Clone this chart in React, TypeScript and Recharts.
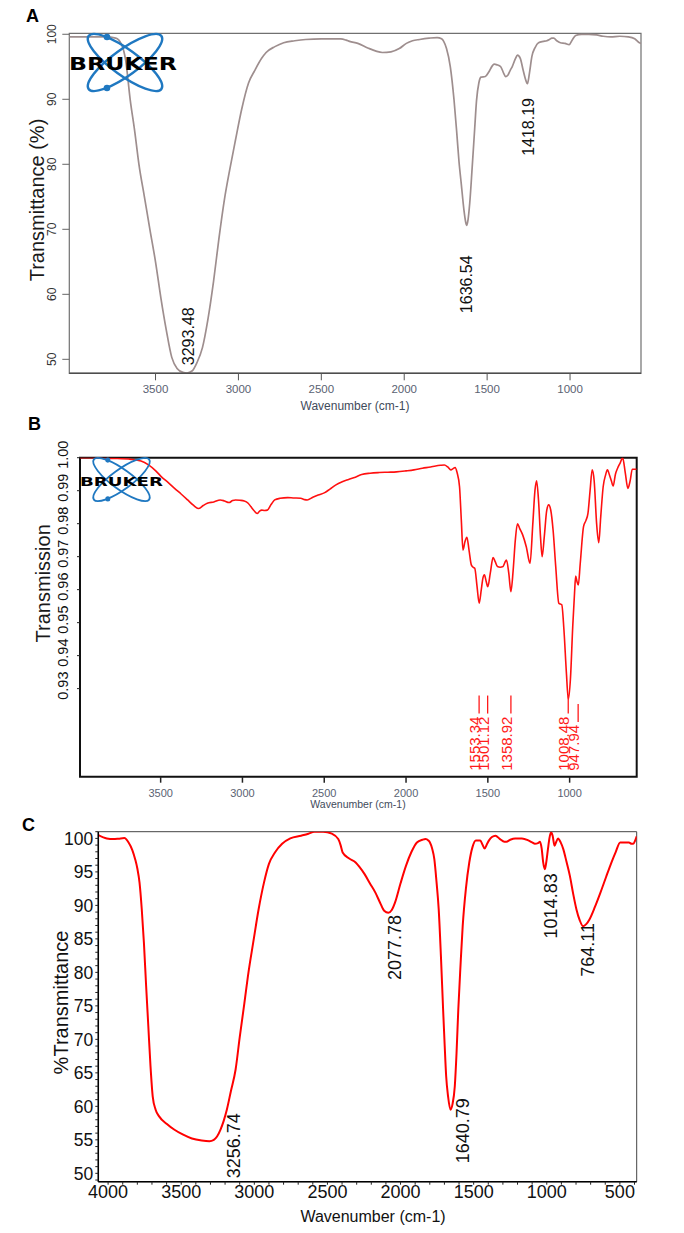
import React from "react";
import { LineChart, Line, XAxis, YAxis, ReferenceArea, ReferenceDot } from "recharts";

const FONT = '"Liberation Sans", Arial, Helvetica, sans-serif';

// ---- A: Bruker spectrum, Transmittance (%) ----
const wavenumberA = [
  4020, 3900, 3800, 3740, 3706, 3680, 3653, 3625, 3600, 3567,
  3534, 3500, 3468, 3435, 3402, 3370, 3335, 3310, 3280, 3250,
  3217, 3185, 3150, 3118, 3085, 3050, 3018, 2980, 2939, 2900,
  2860, 2833, 2780, 2727, 2660, 2595, 2500, 2383, 2350, 2330,
  2280, 2220, 2170, 2132, 2080, 2030, 1987, 1950, 1907, 1850,
  1802, 1775, 1762, 1745, 1722, 1700, 1683, 1670, 1656, 1640,
  1630, 1624, 1615, 1605, 1590, 1575, 1564, 1550, 1537, 1511,
  1490, 1470, 1458, 1440, 1418, 1400, 1389, 1375, 1360, 1349,
  1330, 1317, 1300, 1283, 1270, 1257, 1245, 1230, 1210, 1190,
  1160, 1140, 1124, 1110, 1098, 1080, 1058, 1030, 1005, 985,
  966, 930, 886, 840, 800, 754, 700, 648, 610, 582, 572,
];
const transmittanceA = [
  99.6, 99.6, 99.6, 99.4, 98.5, 96, 90, 85, 80, 75,
  70, 65, 59.5, 54.5, 50.3, 48.6, 48.0, 47.9, 48.2, 49.5,
  51.8, 56, 62, 68.5, 74.5, 79.5, 83.7, 88.5, 92.5, 94.5,
  96.3, 97.2, 98.1, 98.7, 99.0, 99.2, 99.3, 99.3, 99.1, 98.9,
  98.6, 97.9, 97.4, 97.2, 97.3, 97.8, 98.6, 99.0, 99.2, 99.4,
  99.5, 99.3, 98.9, 97.8, 95, 90, 84.8, 80.5, 77, 73,
  71.2, 70.6, 71.5, 74, 79.6, 85.5, 89.8, 92.5, 93.4, 93.5,
  94.2, 95.1, 95.4, 95.3, 95, 94, 93.5, 93.7, 94.5, 95,
  96.2, 96.8, 96.3, 94.5, 93.2, 92.4, 94, 96.6, 98, 98.7,
  98.9, 99.0, 99.2, 99.4, 99.4, 99.0, 98.7, 98.6, 98.4, 99.2,
  99.8, 100, 100, 99.9, 99.7, 99.6, 99.7, 99.6, 99.3, 98.7, 98.6,
];
const peakWnA = [3305, 1624, 1252];
const peakTextA = ["3293.48", "1636.54", "1418.19"];
const peakBaseA = [49.1, 57.1, 81.3];
const xTicksA = [3500, 3000, 2500, 2000, 1500, 1000];
const yTicksA = [50, 60, 70, 80, 90, 100];

// ---- B: Transmission ----
const wavenumberB = [
  3992, 3900, 3800, 3681, 3620, 3574, 3530, 3495, 3455, 3415,
  3375, 3335, 3300, 3269, 3240, 3215, 3175, 3136, 3110, 3082,
  3060, 3043, 3015, 2989, 2965, 2949, 2930, 2910, 2895, 2883,
  2865, 2848, 2825, 2803, 2770, 2723, 2690, 2644, 2620, 2604,
  2570, 2537, 2497, 2465, 2431, 2390, 2351, 2310, 2271, 2220,
  2165, 2110, 2059, 2000, 1952, 1900, 1850, 1819, 1790, 1766,
  1745, 1726, 1712, 1700, 1688, 1673, 1662, 1652, 1640, 1628,
  1615, 1601, 1590, 1580, 1566, 1553, 1540, 1530, 1521, 1510,
  1500, 1485, 1468, 1455, 1441, 1425, 1407, 1396, 1386, 1372,
  1359, 1345, 1332, 1319, 1305, 1287, 1265, 1242, 1225, 1212,
  1202, 1190, 1178, 1168, 1155, 1140, 1128, 1115, 1101, 1085,
  1066, 1048, 1035, 1020, 1008, 995, 981, 970, 963, 955,
  947, 935, 915, 900, 888, 875, 862, 850, 835, 822,
  810, 795, 780, 769, 755, 745, 734, 720, 707, 690,
  676, 660, 644, 630, 617, 590,
];
const transmissionB = [
  1.0, 1.0, 0.9998, 0.9995, 0.999, 0.9978, 0.996, 0.9942, 0.9925, 0.9907,
  0.989, 0.9872, 0.9856, 0.9846, 0.9855, 0.9862, 0.9866, 0.9872, 0.9869, 0.9864,
  0.987, 0.9872, 0.9871, 0.9869, 0.9862, 0.9852, 0.984, 0.9831, 0.9838, 0.9841,
  0.984, 0.9841, 0.9858, 0.9872, 0.9877, 0.9879, 0.9878, 0.9877, 0.9873, 0.9872,
  0.988, 0.9887, 0.9894, 0.9905, 0.9917, 0.9927, 0.9934, 0.9941, 0.9949, 0.9953,
  0.9955, 0.9956, 0.9957, 0.996, 0.9963, 0.9968, 0.9972, 0.9975, 0.9977, 0.9978,
  0.9972, 0.9963, 0.9967, 0.997, 0.9955, 0.9912, 0.981, 0.972, 0.9745, 0.9759,
  0.972, 0.9675, 0.9668, 0.9665, 0.961, 0.9559, 0.96, 0.9635, 0.9645, 0.9625,
  0.9609, 0.965, 0.9697, 0.9685, 0.967, 0.9668, 0.967, 0.9682, 0.969, 0.965,
  0.9594, 0.966, 0.975, 0.98, 0.9785, 0.9766, 0.973, 0.968, 0.98, 0.99,
  0.993, 0.987, 0.976, 0.97, 0.976, 0.984, 0.9857, 0.984, 0.978, 0.967,
  0.9559, 0.9554, 0.948, 0.935, 0.9268, 0.933, 0.9488, 0.959, 0.9641, 0.9625,
  0.9614, 0.968, 0.9791, 0.981, 0.9831, 0.99, 0.9963, 0.993, 0.98, 0.9742,
  0.982, 0.9912, 0.9948, 0.9963, 0.9945, 0.993, 0.9914, 0.995, 0.9968, 0.9985,
  1.0, 0.9955, 0.9907, 0.993, 0.9965, 0.9965,
];
const peakWnB = [1553.34, 1501.12, 1358.92, 1008.48, 947.94];
const peakTextB = ["1553.34", "1501.12", "1358.92", "1008.48", "947.94"];
const peakBaseB = 0.9051;
const xTicksB = [3500, 3000, 2500, 2000, 1500, 1000];
const yTicksB = [0.93, 0.94, 0.95, 0.96, 0.97, 0.98, 0.99, 1.0];

// ---- C: %Transmittance ----
const wavenumberC = [
  4067, 4009, 3964, 3930, 3889, 3860, 3835, 3815, 3800, 3785,
  3770, 3755, 3740, 3725, 3710, 3695, 3675, 3651, 3600, 3546,
  3490, 3427, 3360, 3307, 3277, 3255, 3232, 3210, 3188, 3160,
  3128, 3100, 3068, 3040, 3008, 2970, 2934, 2900, 2859, 2810,
  2754, 2680, 2630, 2590, 2530, 2470, 2426, 2410, 2396, 2351,
  2307, 2280, 2247, 2210, 2172, 2140, 2112, 2083, 2060, 2038,
  2000, 1963, 1925, 1888, 1850, 1829, 1810, 1799, 1784, 1769,
  1754, 1739, 1724, 1709, 1698, 1688, 1675, 1658, 1645, 1629,
  1617, 1605, 1590, 1575, 1553, 1530, 1508, 1485, 1455, 1440,
  1425, 1410, 1395, 1375, 1351, 1320, 1290, 1276, 1250, 1216,
  1170, 1126, 1100, 1081, 1060, 1046, 1035, 1025, 1013, 1003,
  992, 982, 971, 960, 947, 935, 923, 905, 887, 865,
  842, 820, 797, 775, 752, 730, 708, 670, 633, 595,
  558, 528, 498, 468, 438, 420, 408, 395, 385,
];
const transmittanceC = [
  100.5, 100, 99.9, 99.95, 100.05, 99.4, 98.3, 96.9, 95.5, 93.4,
  89.5, 84.4, 78, 72, 66, 61.5, 59.5, 58.5, 57.4, 56.5,
  55.8, 55.2, 54.9, 54.8, 55, 55.5, 56.5, 57.8, 59.5, 62.3,
  65.5, 70.3, 75.4, 80, 84.4, 89.5, 93.4, 96.2, 97.9, 99.2,
  100, 100.4, 100.7, 101, 101, 100.7, 99.9, 99, 97.9, 97,
  96.4, 95.7, 94.7, 93.3, 91.9, 90.4, 89.2, 88.9, 89.3, 90.4,
  93.3, 95.9, 98, 99.4, 99.8, 99.9, 99.7, 99.4, 98.5, 96.9,
  93.5, 89.4, 82.5, 74.5, 69, 64.5, 61.5, 59.5, 60.3, 63,
  68, 74.5, 81, 86.9, 92.5, 96.4, 98.7, 99.7, 99.7, 99.1,
  98.5, 99.1, 99.7, 100.2, 100.4, 99.9, 99.5, 99.5, 99.8, 100,
  100, 99.7, 99.4, 99.2, 99.3, 99.5, 98.5, 96.5, 95.4, 96.5,
  98.4, 100, 100.9, 100.4, 98.9, 99.5, 100, 99.4, 98.4, 96.5,
  94.4, 91.8, 89.4, 87.8, 86.9, 87.2, 87.9, 89.8, 91.9, 94.2,
  96.4, 98, 99.4, 99.4, 99.4, 99.2, 99.2, 99.7, 100.3,
];
const peakWnC = [3143, 2038, 1575, 971, 724];
const peakTextC = ["3256.74", "2077.78", "1640.79", "1014.83", "764.11"];
const peakBaseC = [49.25, 78.85, 51.5, 85.07, 79.35];
const xTicksC = [4000, 3500, 3000, 2500, 2000, 1500, 1000, 500];
const yTicksC = [50, 55, 60, 65, 70, 75, 80, 85, 90, 95, 100];
// minor tick marks (every 100 cm-1 / every 1 %)
const xMinorC = Array.from({ length: 37 }, (_, i) => 400 + i * 100);
const yMinorC = Array.from({ length: 53 }, (_, i) => 49 + i);

const domA = { x: [572, 4020], y: [47.85, 100.15] };
const domB = { x: [590, 3993], y: [0.9033, 1.0] };
const domC = { x: [385, 4067], y: [48.75, 101.0] };

const rows = (xs: number[], ys: number[]) => xs.map((wn, i) => ({ wn, t: ys[i] }));

const VText = ({ x, y, size, fill, anchor = "start", children }: any) => (
  <text
    x={x}
    y={y}
    transform={`rotate(-90 ${x} ${y})`}
    fontSize={size}
    fill={fill}
    textAnchor={anchor}
    fontFamily={FONT}
  >
    {children}
  </text>
);

const textWidth = (s: string, size: number) =>
  s.split("").reduce((w, c) => w + (c === "." ? 0.278 : 0.556), 0) * size;

// rotated peak label, its glyphs centred on the peak position
const peakShape = (text: string, size: number, fill: string) => (p: any) => {
  const bx = p.cx + size * 0.36;
  return <VText x={bx} y={p.cy} size={size} fill={fill}>{text}</VText>;
};

// red label with a marker stroke above it (panel B)
const peakShapeB = (text: string) => (p: any) => {
  const len = textWidth(text, 15);
  return (
    <g>
      <VText x={p.cx + 1} y={p.cy} size={15} fill="#ff1a1a">{text}</VText>
      <line x1={p.cx} x2={p.cx} y1={p.cy - len - 3} y2={p.cy - len - 21} stroke="#ff1a1a" strokeWidth={1.3} />
    </g>
  );
};

const BrukerLogo = ({ cx, cy, s, tx, ty, tw, fs }: any) => (
  <g>
    <ellipse cx={cx} cy={cy} rx={45 * s} ry={13 * s} transform={`rotate(36 ${cx} ${cy})`}
      fill="none" stroke="#1f78c1" strokeWidth={2.4 * s} />
    <ellipse cx={cx} cy={cy} rx={45 * s} ry={13 * s} transform={`rotate(-36 ${cx} ${cy})`}
      fill="none" stroke="#1f78c1" strokeWidth={2.4 * s} />
    <circle cx={cx - 18 * s} cy={cy - 25.5 * s} r={3.3 * s} fill="#1f78c1" />
    <circle cx={cx - 18 * s} cy={cy + 25.5 * s} r={3.3 * s} fill="#1f78c1" />
    <text x={tx} y={ty} fontSize={fs} fontWeight="bold" fontFamily='"DejaVu Sans", sans-serif'
      textLength={tw} lengthAdjust="spacingAndGlyphs" fill="#000">BRUKER</text>
  </g>
);

const overlay: React.CSSProperties = { position: "absolute", left: 0, top: 0, pointerEvents: "none" };

// ---- tick renderers ----
const tickAX = ({ x, y, payload }: any) => (
  <text x={x} y={y} dy="0.71em" textAnchor="middle" fontSize={11.5} fill="#5a6272" fontFamily={FONT}>
    {payload.value}
  </text>
);
const tickAY = ({ x, y, payload }: any) => (
  <VText x={x} y={y} size={12} fill="#333" anchor="middle">{payload.value}</VText>
);
const tickBX = ({ x, y, payload }: any) => (
  <text x={x} y={y} dy="0.71em" textAnchor="middle" fontSize={11} fill="#5a6272" fontFamily={FONT}>
    {payload.value}
  </text>
);
const tickBY = ({ x, y, payload }: any) => (
  <VText x={x} y={y - 3} size={14.5} fill="#111" anchor="middle">{payload.value.toFixed(2)}</VText>
);
const tickCX = ({ x, y, payload }: any) =>
  xTicksC.includes(payload.value) ? (
    <text x={x} y={y} dy="0.71em" textAnchor="middle" fontSize={18} fill="#111" fontFamily={FONT}>
      {payload.value}
    </text>
  ) : (
    <g />
  );
const tickCY = ({ x, y, payload }: any) =>
  yTicksC.includes(payload.value) ? (
    <text x={x} y={y} dy="0.355em" textAnchor="end" fontSize={17.5} fill="#111" fontFamily={FONT}>
      {payload.value}
    </text>
  ) : (
    <g />
  );

function PanelA() {
  return (
    <div style={{ position: "absolute", left: 0, top: 0, width: 684, height: 415 }}>
      <LineChart width={684} height={415} data={rows(wavenumberA, transmittanceA)}
        margin={{ top: 33.3, right: 43, bottom: 11.7, left: 39.3 }}>
        <ReferenceArea x1={domA.x[0]} x2={domA.x[1]} y1={domA.y[0]} y2={domA.y[1]}
          fill="none" fillOpacity={0} stroke="#707070" strokeWidth={1.2} />
        <XAxis dataKey="wn" type="number" domain={domA.x} reversed allowDataOverflow ticks={xTicksA}
          interval={0} height={30} tickSize={7} tickMargin={5} tick={tickAX}
          axisLine={{ stroke: "#4d4d4d", strokeWidth: 1.5 }} tickLine={{ stroke: "#555" }} />
        <YAxis type="number" domain={domA.y} allowDataOverflow ticks={yTicksA} interval={0} width={30}
          tickSize={7} tickMargin={6} tick={tickAY} axisLine={false} tickLine={{ stroke: "#666" }} />
        <Line dataKey="t" type="monotone" stroke="#9e8e8e" strokeWidth={1.7} dot={false} isAnimationActive={false} />
        {peakWnA.map((wn, i) => (
          <ReferenceDot key={wn} x={wn} y={peakBaseA[i]} r={1} shape={peakShape(peakTextA[i], 16, "#111")} />
        ))}
      </LineChart>
      <svg width={684} height={415} style={overlay}>
        <text x={26} y={21.7} fontSize={18} fontWeight="bold" fontFamily={FONT}>A</text>
        <VText x={44} y={200} size={20} fill="#1a1a1a" anchor="middle">Transmittance (%)</VText>
        <text x={355} y={410} textAnchor="middle" fontSize={12} fill="#3f4b5b" fontFamily={FONT}>
          Wavenumber (cm-1)
        </text>
        <BrukerLogo cx={125} cy={62.5} s={1} tx={69} ty={70} tw={108} fs={17} />
      </svg>
    </div>
  );
}

function PanelB() {
  return (
    <div style={{ position: "absolute", left: 0, top: 415, width: 684, height: 395, overflow: "hidden" }}>
      <LineChart width={684} height={400} data={rows(wavenumberB, transmissionB)}
        margin={{ top: 42.7, right: 47.3, bottom: 8.3, left: 50 }}>
        <ReferenceArea x1={domB.x[0]} x2={domB.x[1]} y1={domB.y[0]} y2={domB.y[1]}
          fill="none" fillOpacity={0} stroke="#111" strokeWidth={2} />
        <XAxis dataKey="wn" type="number" domain={domB.x} reversed allowDataOverflow ticks={xTicksB}
          interval={0} height={30} tickSize={6} tickMargin={6} tick={tickBX}
          axisLine={false} tickLine={{ stroke: "#222", strokeWidth: 1.5 }} />
        <YAxis type="number" domain={domB.y} allowDataOverflow ticks={yTicksB} interval={0} width={30}
          tickSize={3} tickMargin={8.5} tick={tickBY} axisLine={false} tickLine={{ stroke: "#222" }} />
        <Line dataKey="t" type="monotone" stroke="#ff1010" strokeWidth={1.6} dot={false} isAnimationActive={false} />
        {peakWnB.map((wn, i) => (
          <ReferenceDot key={wn} x={wn} y={peakBaseB} r={1} shape={peakShapeB(peakTextB[i])} />
        ))}
      </LineChart>
      <svg width={684} height={395} style={overlay}>
        <text x={28} y={15} fontSize={18} fontWeight="bold" fontFamily={FONT}>B</text>
        <VText x={50} y={168.3} size={20} fill="#1a1a1a" anchor="middle">Transmission</VText>
        <text x={358} y={393} textAnchor="middle" fontSize={10.5} fill="#3f4b5b" fontFamily={FONT}>
          Wavenumber (cm-1)
        </text>
        <BrukerLogo cx={121.5} cy={64.5} s={0.76} tx={80} ty={71} tw={83} fs={13} />
      </svg>
    </div>
  );
}

function PanelC() {
  return (
    <div style={{ position: "absolute", left: 0, top: 810, width: 684, height: 423, background: "#fff" }}>
      <LineChart width={684} height={423} data={rows(wavenumberC, transmittanceC)}
        margin={{ top: 21.7, right: 47.3, bottom: 21.3, left: 58.3 }}>
        <ReferenceArea x1={domC.x[0]} x2={domC.x[1]} y1={domC.y[0]} y2={domC.y[1]}
          fill="none" fillOpacity={0} stroke="#444" strokeWidth={1} />
        <XAxis dataKey="wn" type="number" domain={domC.x} reversed allowDataOverflow ticks={xMinorC}
          interval={0} height={30} tickSize={3} tickMargin={1} tick={tickCX}
          axisLine={{ stroke: "#000", strokeWidth: 1.5 }} tickLine={{ stroke: "#222" }} />
        <YAxis type="number" domain={domC.y} allowDataOverflow ticks={yMinorC} interval={0} width={40}
          tickSize={3} tickMargin={2} tick={tickCY}
          axisLine={{ stroke: "#000", strokeWidth: 1.5 }} tickLine={{ stroke: "#222" }} />
        <Line dataKey="t" type="monotone" stroke="#ff0000" strokeWidth={2} dot={false} isAnimationActive={false} />
        {peakWnC.map((wn, i) => (
          <ReferenceDot key={wn} x={wn} y={peakBaseC[i]} r={1} shape={peakShape(peakTextC[i], 18, "#111")} />
        ))}
      </LineChart>
      <svg width={684} height={423} style={overlay}>
        <text x={22} y={20.7} fontSize={18} fontWeight="bold" fontFamily={FONT}>C</text>
        <VText x={68} y={192.5} size={20} fill="#111" anchor="middle">%Transmittance</VText>
        <text x={373} y={412} textAnchor="middle" fontSize={16} fill="#111" fontFamily={FONT}>
          Wavenumber (cm-1)
        </text>
      </svg>
    </div>
  );
}

export default function App() {
  return (
    <div style={{ position: "absolute", left: 0, top: 0, width: 684, height: 1233, background: "#fff" }}>
      <PanelA />
      <PanelB />
      <PanelC />
    </div>
  );
}
